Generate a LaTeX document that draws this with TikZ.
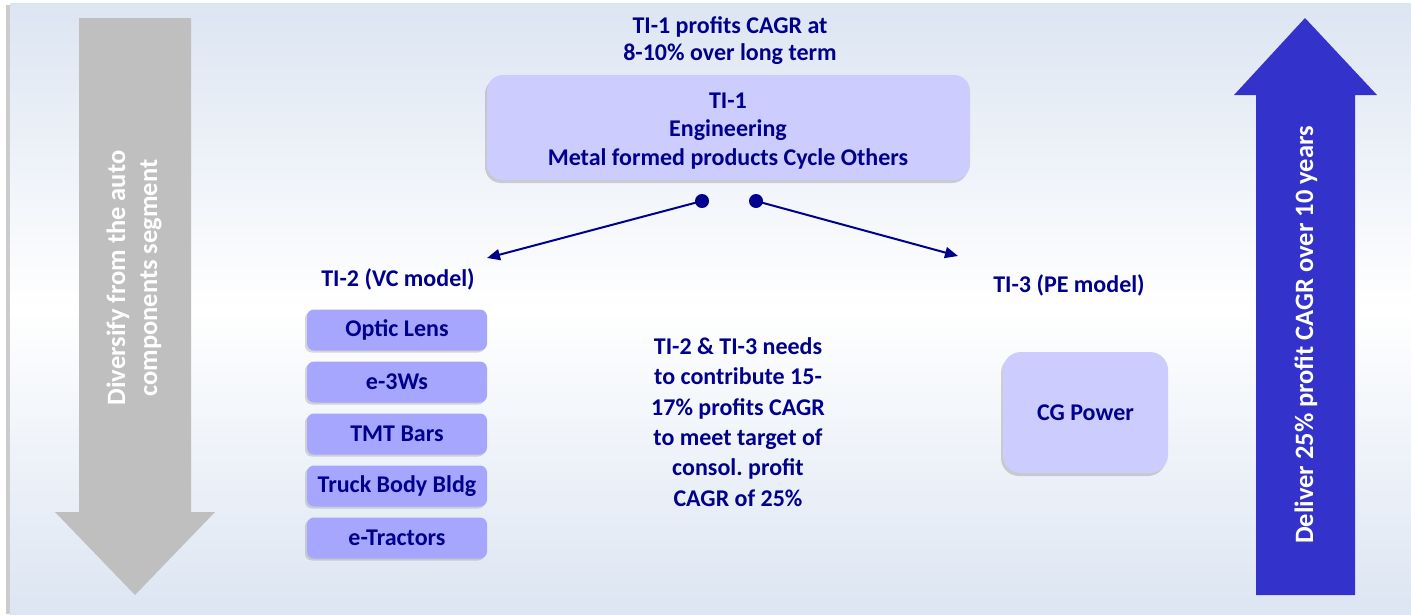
\documentclass[tikz,border=0pt]{standalone}
\usepackage{fontspec}
\setmainfont{Carlito}
\usetikzlibrary{arrows.meta,shadows}
\frenchspacing
\definecolor{navy}{RGB}{0,0,140}
\definecolor{boxA}{RGB}{204,204,255}
\definecolor{boxB}{RGB}{166,166,255}
\definecolor{bgblue}{RGB}{220,229,242}
\definecolor{greyarrow}{RGB}{191,191,191}
\definecolor{bluearrow}{RGB}{51,51,204}
\tikzset{
  txt/.style={text=navy,font=\fontsize{24}{27}\selectfont\bfseries,align=center,inner sep=0pt},
  bigbox/.style={fill=boxA,rounded corners=16pt,draw=none,
     drop shadow={shadow xshift=-2pt,shadow yshift=-3pt,opacity=0.35}},
  smallbox/.style={fill=boxB,rounded corners=7pt,draw=none,minimum width=180pt,minimum height=41pt,
     text=navy,font=\fontsize{24}{26}\selectfont\bfseries,inner sep=0pt,
     drop shadow={shadow xshift=-2pt,shadow yshift=-2pt,opacity=0.3}},
  conn/.style={navy,line width=2pt,-{Triangle[length=13pt,width=11pt]}},
  dot/.style={circle,fill=navy,inner sep=0pt,minimum size=14pt},
  arrtxt/.style={text=white,font=\fontsize{26.5}{32}\selectfont\bfseries,align=center,rotate=90,inner sep=0pt}
}
\begin{document}
\begin{tikzpicture}[x=1pt,y=-1pt]
\useasboundingbox (0,0) rectangle (1411,614);
\fill[white] (0,0) rectangle (1411,614);
% background shadow + gradient
\fill[black!20] (6,5) rectangle (1411,614);
\shade[top color=bgblue,bottom color=bgblue,middle color=white] (10,3) rectangle (1411,614);
% grey arrow
\fill[greyarrow] (79,18) -- (191,18) -- (191,512) -- (215,512) -- (135,595) -- (55,512) -- (79,512) -- cycle;
\node[arrtxt] (gtxt) at (134,278) {Diversify from the auto\\components segment};
% blue arrow
\fill[bluearrow] (1256,595) -- (1355,595) -- (1355,95) -- (1377,95) -- (1305,18) -- (1234,95) -- (1256,95) -- cycle;
\node[arrtxt] (btxt) at (1306,335) {Deliver 25\% profit CAGR over 10 years};
% title
\node[txt] (title) at (730,41) {TI-1 profits CAGR at\\8-10\% over long term};
% TI-1 box
\fill[bigbox] (487,75) rectangle (970,180);
\node[txt,font=\fontsize{24}{28.5}\selectfont\bfseries] (ti1) at (728,131) {TI-1\\Engineering\\Metal formed products Cycle Others};
% dots and connectors
\node[dot] (d1) at (702,201) {};
\node[dot] (d2) at (756,201) {};
\coordinate (e1) at (487,258);
\coordinate (e2) at (958,256);
\draw[conn] (d1.center) -- (e1);
\draw[conn] (d2.center) -- (e2);
% labels
\node[txt] (ti2) at (398,279) {TI-2 (VC model)};
\node[txt] (ti3) at (1069,285) {TI-3 (PE model)};
% small boxes
\node[smallbox] (b1) at (397,330) {Optic Lens};
\node[smallbox] (b2) at (397,382) {e-3Ws};
\node[smallbox] (b3) at (397,434) {TMT Bars};
\node[smallbox] (b4) at (397,486) {Truck Body Bldg};
\node[smallbox] (b5) at (397,538) {e-Tractors};
% center text
\node[txt,font=\fontsize{24}{30.4}\selectfont\bfseries] (mid) at (738,422) {TI-2 \& TI-3 needs\\to contribute 15-\\17\% profits CAGR\\to meet target of\\consol. profit\\CAGR of 25\%};
% CG power
\node[bigbox,rounded corners=18pt,minimum width=165pt,minimum height=121pt,inner sep=0pt,
  text=navy,font=\fontsize{24}{26}\selectfont\bfseries] (cg) at (1085.5,412.5) {CG Power};
\end{tikzpicture}
\end{document}
